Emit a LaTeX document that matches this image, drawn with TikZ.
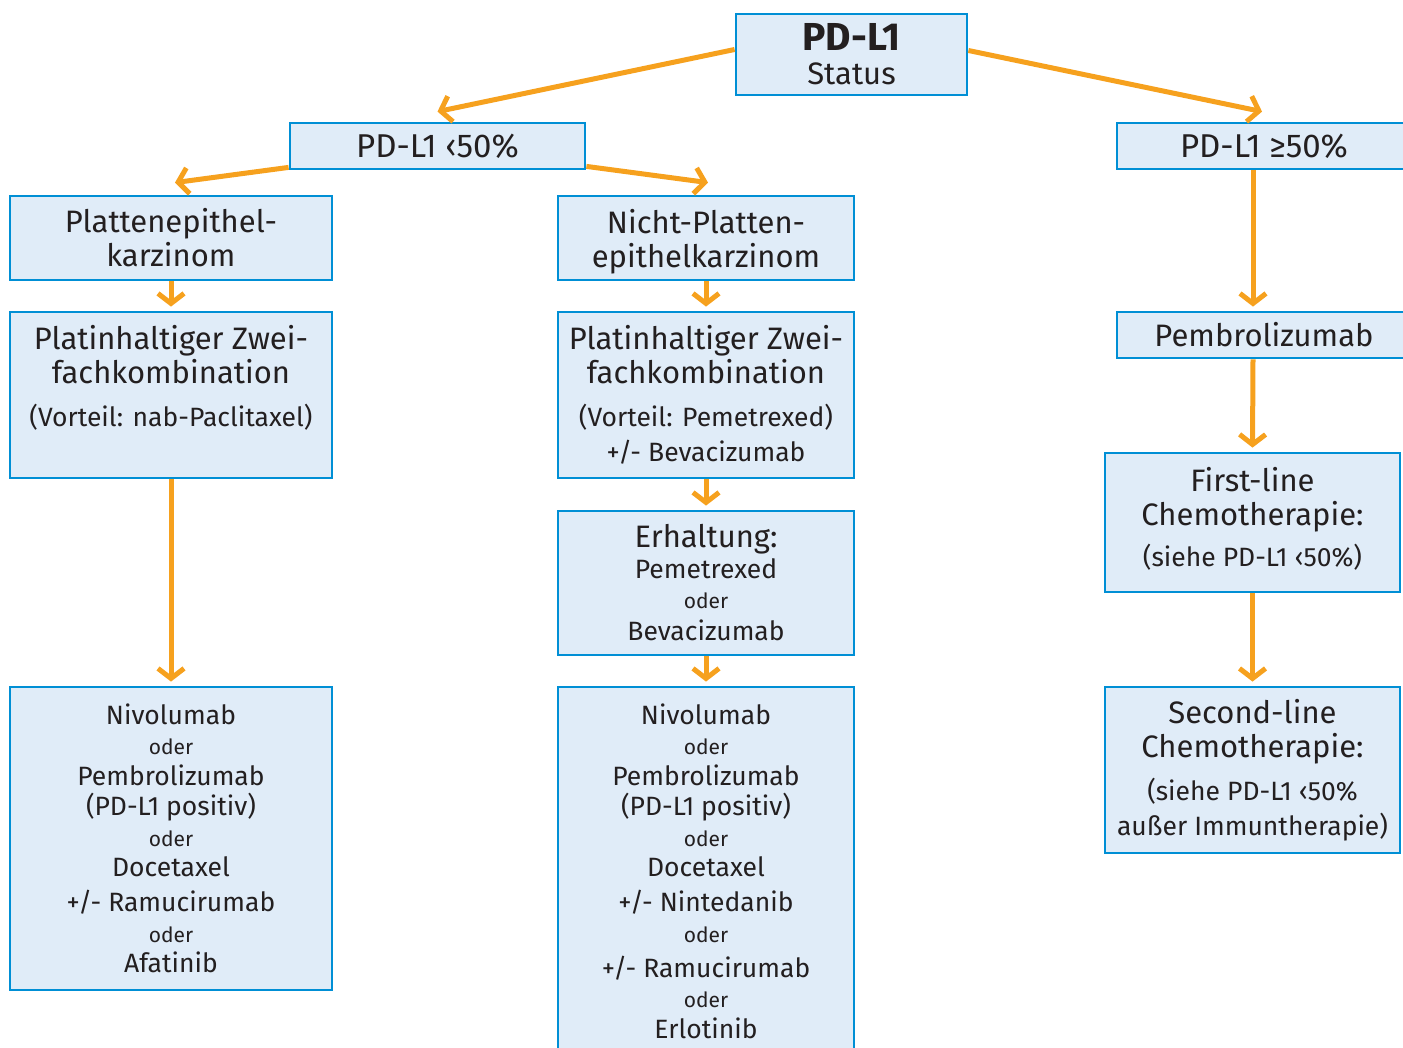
\documentclass[tikz,border=0pt]{standalone}
\usepackage{fontspec}
\setmainfont{Fira Sans}
\usetikzlibrary{arrows.meta}
\definecolor{boxfill}{RGB}{224,236,248}
\definecolor{boxline}{RGB}{0,143,213}
\definecolor{arr}{RGB}{246,161,30}
\definecolor{txt}{RGB}{35,31,32}
\newcommand\fsL{\fontsize{31}{34}\selectfont}
\newcommand\fsT{\fontsize{33}{34}\selectfont}
\newcommand\fsB{\fontsize{39}{36}\selectfont}
\newcommand\fsM{\fontsize{26.5}{30.5}\selectfont}
\newcommand\fsS{\fontsize{21}{30.5}\selectfont}
\newcommand\fsV{\fontsize{26.5}{30}\selectfont}
\tikzset{
  box/.style={draw=boxline, line width=2.8pt, fill=boxfill, inner sep=0pt, align=center, text=txt},
  conn/.style={draw=arr, line width=5pt, -{Straight Barb[length=10pt,width=26pt]}}
}
\begin{document}
\begin{tikzpicture}[x=1pt,y=-1pt]
\useasboundingbox (0,0) rectangle (1403,1048);
% top
\node[box, minimum width=231pt, minimum height=81pt, font=\fsL] (status) at (851.5,54.5) {{\fsB\bfseries PD-L1}\\Status};
\node[box, minimum width=295pt, minimum height=46pt, font=\fsT] (lt50) at (437.5,146) {PD-L1 ‹50\%};
\node[box, minimum width=294pt, minimum height=46pt, font=\fsT] (ge50) at (1264,146) {PD-L1 ≥50\%};
% left column
\node[box, minimum width=322pt, minimum height=84pt, font=\fsL] (platten) at (171,238) {Plattenepithel-\\karzinom};
\node[box, minimum width=322pt, minimum height=166pt, font=\fsL] (platinL) at (171,395)
  {Platinhaltiger Zwei-\\fachkombination\\[9pt]{\fsV (Vorteil: nab-Paclitaxel)}\\[1pt]{\fsV\vphantom{+/- Bevacizumab}}};
\node[box, minimum width=322pt, minimum height=303pt, font=\fsM] (nivL) at (171,838.5)
  {Nivolumab\\{\fsS oder}\\Pembrolizumab\\(PD-L1 positiv)\\{\fsS oder}\\Docetaxel\\[4.5pt]+/- Ramucirumab\\{\fsS oder}\\Afatinib};
% middle column
\node[box, minimum width=296pt, minimum height=84pt, font=\fsL] (nicht) at (706,238) {Nicht-Platten-\\\raisebox{0pt}[\height][0pt]{epithelkarzinom}};
\node[box, minimum width=296pt, minimum height=166pt, font=\fsL] (platinM) at (706,395)
  {Platinhaltiger Zwei-\\fachkombination\\[9pt]{\fsV (Vorteil: Pemetrexed)}\\[1pt]{\fsV +/- Bevacizumab}};
\node[box, minimum width=296pt, minimum height=144pt, font=\fsM] (erh) at (706,583)
  {{\fsL Erhaltung:}\\Pemetrexed\\{\fsS oder}\\[1.5pt]Bevacizumab};
\node[box, minimum width=296pt, minimum height=368pt, font=\fsM] (nivM) at (706,871)
  {Nivolumab\\{\fsS oder}\\Pembrolizumab\\(PD-L1 positiv)\\{\fsS oder}\\Docetaxel\\[4.5pt]+/- Nintedanib\\{\fsS oder}\\[4.5pt]+/- Ramucirumab\\{\fsS oder}\\Erlotinib};
% right column
\node[box, minimum width=294pt, minimum height=46pt, font=\fsL] (pembro) at (1264,335) {Pembrolizumab};
\node[box, minimum width=295pt, minimum height=139pt, font=\fsL] (first) at (1252.5,522.5)
  {First-line\\Chemotherapie:\\[7pt]{\fsV\raisebox{0pt}[\height][\dimexpr\depth+8pt\relax]{(siehe PD-L1 ‹50\%)}}};
\node[box, minimum width=295pt, minimum height=166pt, font=\fsL] (second) at (1252.5,770)
  {Second-line\\Chemotherapie:\\[9pt]{\fsV (siehe PD-L1 ‹50\%}\\[1pt]{\fsV außer Immuntherapie)}};
% connectors
\draw[conn] ([yshift=5pt]status.west) -- ([yshift=10pt]lt50.north);
\draw[conn] ([yshift=4pt]status.east) -- ([xshift=-2pt,yshift=10pt]ge50.north);
\draw[conn] ([yshift=3pt]lt50.south west) -- ([xshift=4pt,yshift=12pt]platten.north);
\draw[conn] ([yshift=4pt]lt50.south east) -- ([xshift=2pt,yshift=12pt]nicht.north);
\draw[conn] (platten.south) -- ([yshift=4pt]platinL.north);
\draw[conn] (platinL.south) -- ([yshift=4pt]nivL.north);
\draw[conn] (nicht.south) -- ([yshift=4pt]platinM.north);
\draw[conn] (platinM.south) -- ([yshift=4pt]erh.north);
\draw[conn] (erh.south) -- ([yshift=4pt]nivM.north);
\draw[conn] ([xshift=-11pt]ge50.south) -- ([xshift=-11pt,yshift=4pt]pembro.north);
\draw[conn] ([xshift=-11pt]pembro.south) -- ([yshift=4pt]first.north);
\draw[conn] (first.south) -- ([yshift=4pt]second.north);
\end{tikzpicture}
\end{document}
